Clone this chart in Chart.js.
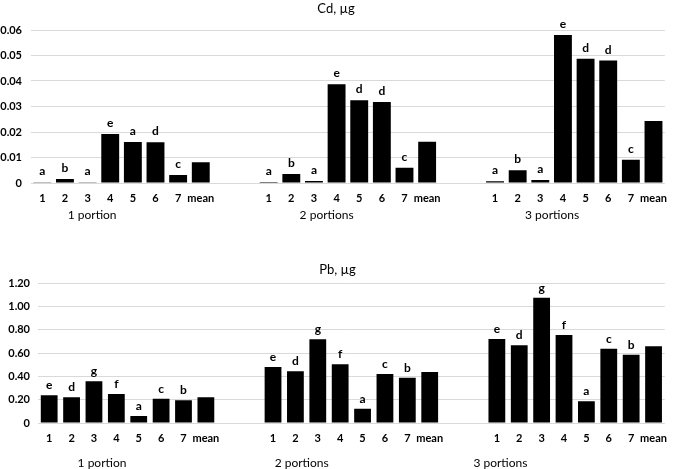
<!DOCTYPE html>
<html><head><meta charset="utf-8">
<script src="https://cdn.jsdelivr.net/npm/chart.js@4/dist/chart.umd.min.js"></script>
<style>
html,body{margin:0;padding:0;background:#fff;width:676px;height:469px;overflow:hidden;}
#w1{position:absolute;left:0;top:0;width:676px;height:235px;}
#w2{position:absolute;left:0;top:240px;width:676px;height:229px;}
</style></head><body>
<div id="w1"><canvas id="c1"></canvas></div>
<div id="w2"><canvas id="c2"></canvas></div>
<script>
const categories = ['1','2','3','4','5','6','7','mean','','',
                    '1','2','3','4','5','6','7','mean','','',
                    '1','2','3','4','5','6','7','mean'];
const groupLabels = ['1 portion','2 portions','3 portions'];

const cdValues = [0.0003,0.0016,0.0003,0.0192,0.0161,0.0160,0.0031,0.0081,null,null,
                  0.0004,0.0035,0.0008,0.0387,0.0325,0.0318,0.0060,0.0162,null,null,
                  0.0007,0.0050,0.0012,0.0580,0.0487,0.0480,0.0091,0.0243];
const cdLetters = ['a','b','a','e','a','d','c','','','',
                   'a','b','a','e','d','d','c','','','',
                   'a','b','a','e','d','d','c',''];
const cdTickLabels = ['0','0.01','0.02','0.03','0.04','0.05','0.06'];

const pbValues = [0.237,0.220,0.357,0.248,0.060,0.208,0.194,0.220,null,null,
                  0.480,0.443,0.717,0.503,0.123,0.420,0.388,0.437,null,null,
                  0.720,0.666,1.074,0.754,0.186,0.637,0.585,0.657];
const pbLetters = ['e','d','g','f','a','c','b','','','',
                   'e','d','g','f','a','c','b','','','',
                   'e','d','g','f','a','c','b',''];
const pbTickLabels = ['0','0.20','0.40','0.60','0.80','1.00','1.20'];

// group label anchor positions (in category-index units)
const cdGroupPos = [2.2, 12.56, 22.52];
const pbGroupPos = [2.36, 11.28, 20.16];

const FONT = 'Lato, "Open Sans", sans-serif';

const annot = {
  id: 'annot',
  afterDatasetsDraw(chart, args, o) {
    const ctx = chart.ctx;
    const meta = chart.getDatasetMeta(0);
    ctx.save();
    ctx.fillStyle = '#000';
    ctx.textAlign = 'center';
    ctx.textBaseline = 'alphabetic';
    ctx.font = 'bold 12px ' + FONT;
    meta.data.forEach((bar, i) => {
      const l = o.letters[i];
      if (l) ctx.fillText(l, bar.x, bar.y - o.gap);
    });
    const xs = chart.scales.x;
    ctx.font = '12px ' + FONT;
    ctx.textBaseline = 'middle';
    o.groups.forEach((g, i) => {
      ctx.fillText(g, xs.getPixelForValue(o.pos[i]), o.y);
    });
    ctx.restore();
  }
};

function make(id, values, letters, tickLabels, max, step, title, titlePad, yW, yPad, xH, barPct, padRight, gpos, gy, gap) {
  return new Chart(document.getElementById(id), {
    type: 'bar',
    data: {
      labels: categories,
      datasets: [{
        data: values,
        backgroundColor: '#000',
        borderWidth: 0,
        barPercentage: barPct,
        categoryPercentage: 1.0
      }]
    },
    options: {
      responsive: true,
      maintainAspectRatio: false,
      animation: false,
      layout: { padding: { left: 0, right: padRight, top: 0, bottom: 0 } },
      plugins: {
        legend: { display: false },
        tooltip: { enabled: false },
        title: {
          display: true, text: title, color: '#000',
          font: { family: FONT, size: 13, weight: 'normal' },
          padding: titlePad
        },
        annot: { letters: letters, gap: gap, groups: groupLabels, pos: gpos, y: gy }
      },
      scales: {
        x: {
          grid: { display: false, drawTicks: false },
          border: { display: false },
          ticks: {
            autoSkip: false, maxRotation: 0, minRotation: 0, padding: 9,
            color: '#000', font: { family: FONT, size: 11, weight: 'bold' }
          },
          afterFit: s => { s.height = xH; }
        },
        y: {
          min: 0, max: max,
          grid: { color: '#d9d9d9', drawTicks: false, lineWidth: 1 },
          border: { display: false },
          ticks: {
            stepSize: step, padding: yPad,
            color: '#000', font: { family: FONT, size: 11, weight: 'bold' },
            callback: (v, i) => tickLabels[i]
          },
          afterFit: s => { s.width = yW; }
        }
      }
    },
    plugins: [annot]
  });
}

make('c1', cdValues, cdLetters, cdTickLabels, 0.06, 0.01, 'Cd, µg',
     { top: 1, bottom: 13.4 }, 31, 9, 52, 0.79, 4, cdGroupPos, 215, 7);
make('c2', pbValues, pbLetters, pbTickLabels, 1.2, 0.2, 'Pb, µg',
     { top: 22.2, bottom: 5.2 }, 38, 8, 46, 0.75, 1, pbGroupPos, 223, 6);
</script>
</body></html>
